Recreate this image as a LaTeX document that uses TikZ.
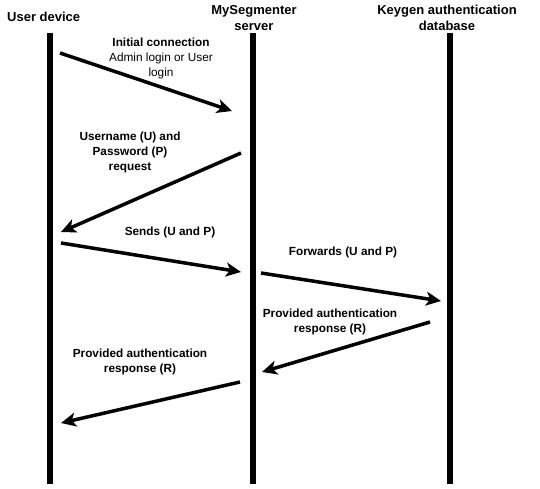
\documentclass[tikz,border=0pt]{standalone}
\usepackage{fontspec}
\setmainfont{Liberation Sans}
\usetikzlibrary{arrows.meta}
\begin{document}
\begin{tikzpicture}[x=1pt,y=-1pt,
    lifeline/.style={line width=6pt},
    msg/.style={line width=3.5pt,-{Stealth[length=15pt,width=14pt,inset=4pt]}},
    head/.style={font=\fontsize{13}{16.5}\selectfont\bfseries,align=center,inner sep=0pt},
    lbl/.style={font=\fontsize{11.8}{15}\selectfont\bfseries,align=center,inner sep=0pt}]
  \useasboundingbox (0,0) rectangle (540,489);
  \draw
    (7,17) node[head,anchor=west] (user){User device}
    (254,18) node[head] (server){MySegmenter\\server}
    (447,18) node[head] (keygen){Keygen authentication\\database};
  \coordinate (u0) at (50,33);  \coordinate (u1) at (50,484);
  \coordinate (s0) at (253,33); \coordinate (s1) at (253,484);
  \coordinate (k0) at (450,33); \coordinate (k1) at (450,484);
  \begin{scope}[lifeline]
    \draw (u0) -- (u1);
    \draw (s0) -- (s1);
    \draw (k0) -- (k1);
  \end{scope}
  \coordinate (m1a) at (60,53);   \coordinate (m1b) at (232,111);
  \coordinate (m2a) at (241,153); \coordinate (m2b) at (61,232);
  \coordinate (m3a) at (61,243);  \coordinate (m3b) at (241,272);
  \coordinate (m4a) at (261,273); \coordinate (m4b) at (441,301);
  \coordinate (m5a) at (430,322); \coordinate (m5b) at (262,372);
  \coordinate (m6a) at (240,382); \coordinate (m6b) at (61,423);
  \begin{scope}[msg]
    \draw (m1a) -- (m1b);
    \draw (m2a) -- (m2b);
    \draw (m3a) -- (m3b);
    \draw (m4a) -- (m4b);
    \draw (m5a) -- (m5b);
    \draw (m6a) -- (m6b);
  \end{scope}
  \node[lbl,font=\fontsize{11.8}{15}\selectfont] (initial) at (161,58) {\textbf{Initial connection}\\Admin login or User\\login};
  \node[lbl] (request) at (130,152) {Username (U) and\\Password (P)\\request};
  \node[lbl] (sends) at (170,232) {Sends (U and P)};
  \node[lbl] (forwards) at (343,252) {Forwards (U and P)};
  \node[lbl] (response1) at (330,322) {Provided authentication\\response (R)};
  \node[lbl] (response2) at (140,362) {Provided authentication\\response (R)};
\end{tikzpicture}
\end{document}
